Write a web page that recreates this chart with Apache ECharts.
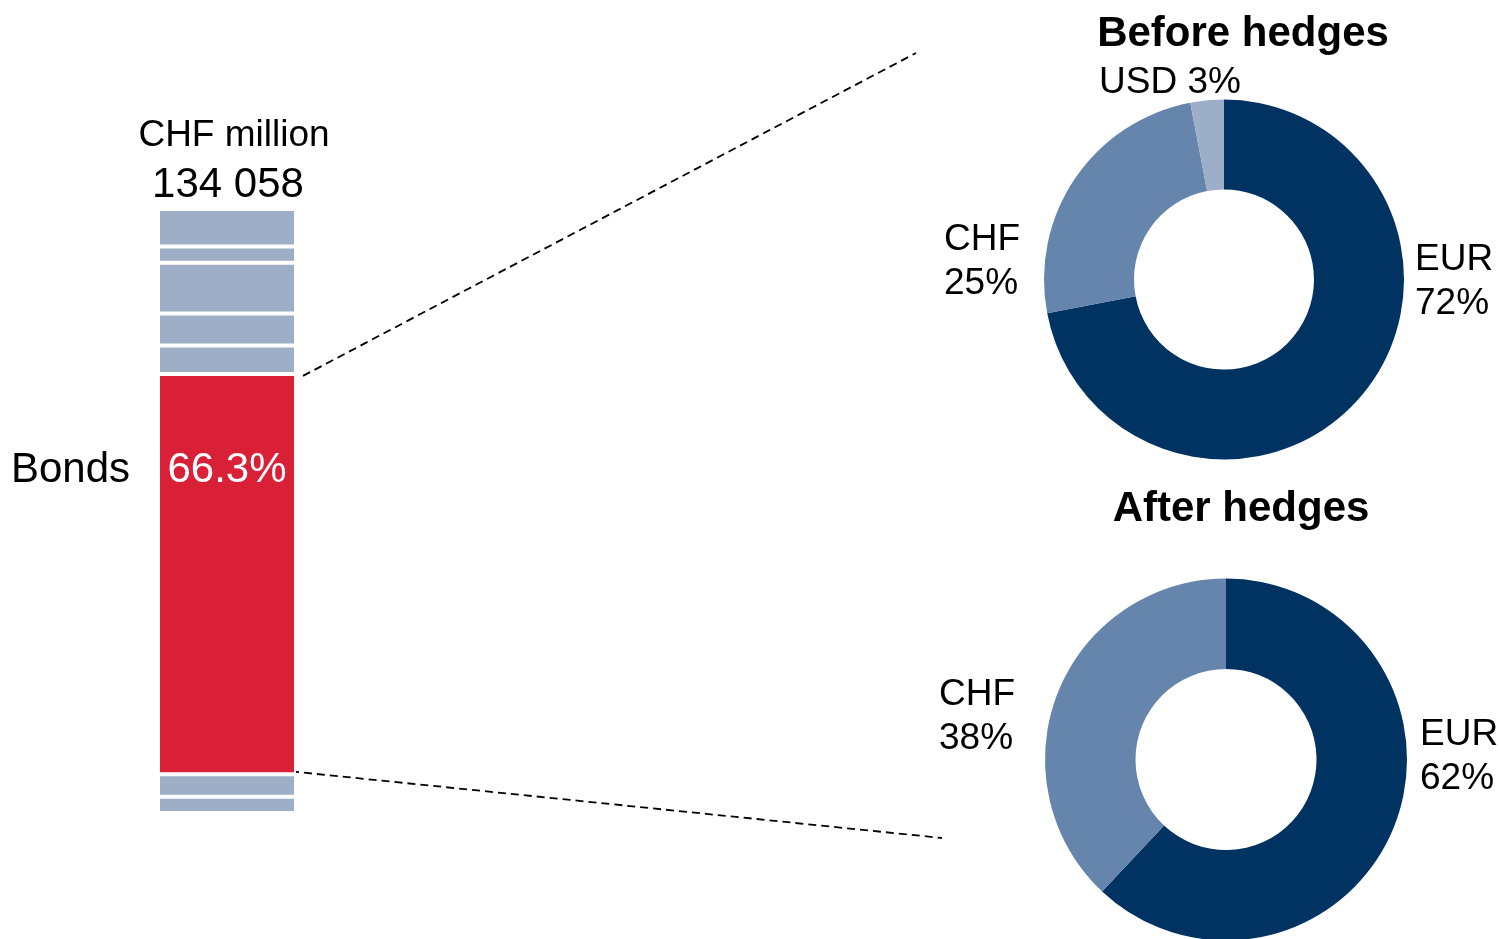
<!DOCTYPE html>
<html>
<head>
<meta charset="utf-8">
<title>Bond portfolio currency split</title>
<script src="https://cdn.jsdelivr.net/npm/echarts@6/dist/echarts.min.js"></script>
<style>
  html, body { margin: 0; padding: 0; background: #ffffff; }
  #chart { width: 1500px; height: 939px; }
</style>
</head>
<body>
<div id="chart"></div>
<script>
// Portfolio total and its split into asset classes (stacked bottom to top, % of total)
const totalChfMillion = 134058;
const assetClasses = ['Other 1', 'Other 2', 'Bonds', 'Other 3', 'Other 4', 'Other 5', 'Other 6', 'Other 7'];
const assetShares = [2.7, 3.7, 66.3, 4.7, 5.3, 8.4, 2.7, 6.2];
const highlightedClass = 'Bonds';

// Currency split of the bond portfolio (%)
const currencies = ['EUR', 'CHF', 'USD'];
const beforeHedges = [72, 25, 3];
const afterHedgesCurrencies = ['EUR', 'CHF'];
const afterHedges = [62, 38];

const FONT = '"Liberation Sans", Arial, Helvetica, sans-serif';
const RED = '#DA2036';
const GREY = '#9EAEC6';
const currencyColors = { EUR: '#003262', CHF: '#6585AD', USD: '#9DAFC8' };

// Donut geometry
const donutBefore = { center: [1224, 279.5], radius: [90, 180] };
const donutAfter = { center: [1226, 759.5], radius: [90.5, 181] };

// Label anchors, offset from each donut centre: [dx, dy, single line?]
const beforeLabelPos = { EUR: [191, 2, false], CHF: [-280, -18, false], USD: [-125, -197, true] };
const afterLabelPos = { EUR: [194, -2.5, false], CHF: [-287, -43, false] };

const chart = echarts.init(document.getElementById('chart'), null, { renderer: 'canvas' });

const grid = { left: 158, top: 209, width: 138, height: 604 };

const barSeries = assetClasses.map((name, i) => {
  const isMain = name === highlightedClass;
  return {
    type: 'bar',
    name: name,
    stack: 'total',
    barWidth: '100%',
    data: [assetShares[i]],
    itemStyle: { color: isMain ? RED : GREY, borderColor: '#ffffff', borderWidth: 2 },
    label: isMain ? {
      show: true,
      position: ['50%', '24%'],
      align: 'center',
      verticalAlign: 'middle',
      formatter: (p) => p.value.toFixed(1) + '%',
      color: '#ffffff',
      fontFamily: FONT,
      fontSize: 42
    } : { show: false },
    emphasis: { disabled: true },
    silent: true
  };
});

function donut(names, values, geom, placement) {
  return {
    type: 'pie',
    center: geom.center,
    radius: geom.radius,
    startAngle: 90,
    clockwise: true,
    avoidLabelOverlap: false,
    silent: true,
    data: names.map((n, i) => ({ name: n, value: values[i], itemStyle: { color: currencyColors[n] } })),
    label: {
      show: true,
      position: 'outside',
      fontFamily: FONT,
      fontSize: 37,
      color: '#000000',
      lineHeight: 44,
      formatter: (p) => placement[p.name][2] ? `${p.name} ${p.value}%` : `${p.name}\n${p.value}%`
    },
    labelLine: { show: false },
    labelLayout: (p) => {
      const name = names[p.dataIndex];
      const off = placement[name];
      return {
        x: geom.center[0] + off[0],
        y: geom.center[1] + off[1],
        align: 'left',
        verticalAlign: 'middle'
      };
    }
  };
}

const option = {
  backgroundColor: '#ffffff',
  animation: false,
  grid: grid,
  xAxis: { type: 'category', data: ['Total'], show: false },
  yAxis: { type: 'value', min: 0, max: 100, show: false },
  series: [
    ...barSeries,
    donut(currencies, beforeHedges, donutBefore, beforeLabelPos),
    donut(afterHedgesCurrencies, afterHedges, donutAfter, afterLabelPos)
  ]
};

chart.setOption(option);

// Annotations placed from the bar geometry
const mainIdx = assetClasses.indexOf(highlightedClass);
const below = assetShares.slice(0, mainIdx).reduce((a, b) => a + b, 0);
const mainTop = below + assetShares[mainIdx];
const total = assetShares.reduce((a, b) => a + b, 0);
const pTop = chart.convertToPixel({ xAxisIndex: 0, yAxisIndex: 0 }, [0, mainTop]);
const pBottom = chart.convertToPixel({ xAxisIndex: 0, yAxisIndex: 0 }, [0, below]);
const pTotal = chart.convertToPixel({ xAxisIndex: 0, yAxisIndex: 0 }, [0, total]);
const barLeft = grid.left + 1;
const barRight = grid.left + grid.width - 1;
const barMid = (barLeft + barRight) / 2;
const mainLabelY = pTop[1] + (pBottom[1] - pTop[1]) * 0.24;

const formatTotal = (v) => String(v).replace(/\B(?=(\d{3})+(?!\d))/g, ' ');

const textStyle = (extra) => Object.assign({ fontFamily: FONT, fill: '#000000' }, extra);

chart.setOption({
  graphic: [
    {
      type: 'text', x: barMid + 7, y: pTotal[1] - 73,
      style: textStyle({ text: 'CHF million', fontSize: 37, textAlign: 'center', textVerticalAlign: 'middle' })
    },
    {
      type: 'text', x: barMid + 1, y: pTotal[1] - 24,
      style: textStyle({ text: formatTotal(totalChfMillion), fontSize: 42, textAlign: 'center', textVerticalAlign: 'middle' })
    },
    {
      type: 'text', x: barLeft - 29, y: mainLabelY,
      style: textStyle({ text: highlightedClass, fontSize: 42, textAlign: 'right', textVerticalAlign: 'middle' })
    },
    {
      type: 'text', x: 1243, y: 34,
      style: textStyle({ text: 'Before hedges', fontSize: 42, fontWeight: 'bold', textAlign: 'center', textVerticalAlign: 'middle' })
    },
    {
      type: 'text', x: 1241, y: 509,
      style: textStyle({ text: 'After hedges', fontSize: 42, fontWeight: 'bold', textAlign: 'center', textVerticalAlign: 'middle' })
    },
    {
      type: 'line',
      shape: { x1: barRight + 8, y1: pTop[1] + 2, x2: 916, y2: 53 },
      style: { stroke: '#000000', lineWidth: 1.8, lineDash: [8, 5] }
    },
    {
      type: 'line',
      shape: { x1: barRight - 4, y1: pBottom[1] - 3, x2: 942, y2: 838 },
      style: { stroke: '#000000', lineWidth: 1.8, lineDash: [8, 5] }
    }
  ]
});
</script>
</body>
</html>
